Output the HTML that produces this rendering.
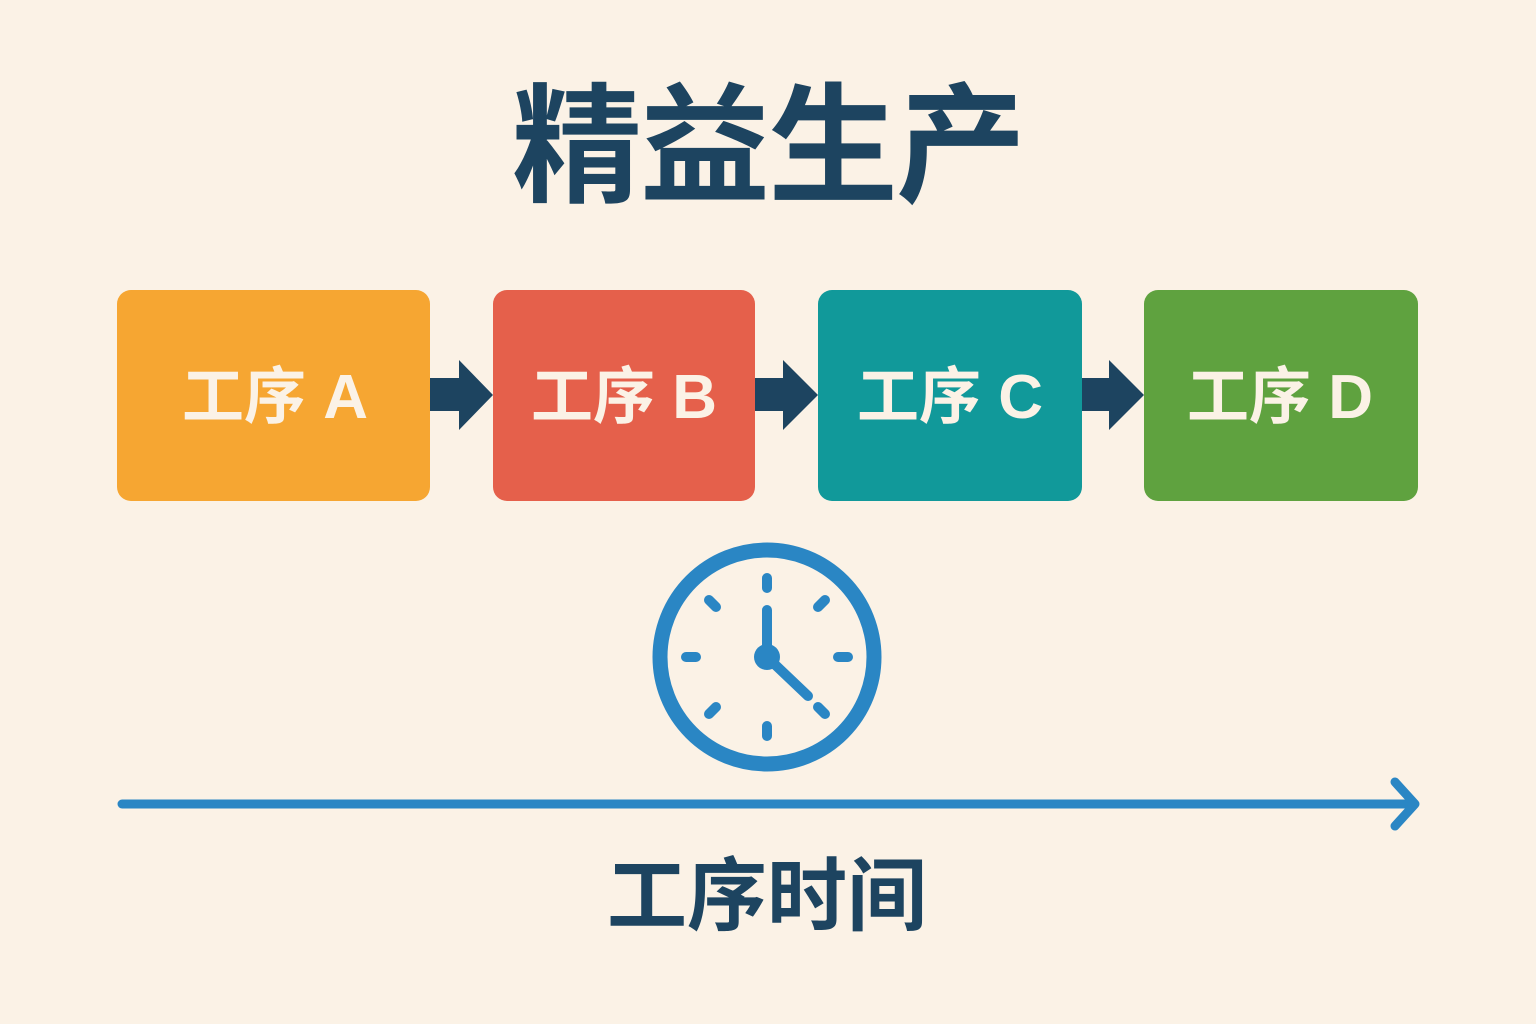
<!DOCTYPE html>
<html><head><meta charset="utf-8"><style>
html,body{margin:0;padding:0;background:#fbf2e6;}
svg{display:block}
text{font-family:"Liberation Sans","Noto Sans CJK SC",sans-serif;font-weight:bold}
</style></head><body>
<svg width="1536" height="1024" viewBox="0 0 1536 1024">
<rect width="1536" height="1024" fill="#fbf2e6"/>
<text x="768" y="192" text-anchor="middle" font-size="130" fill="#1d4460" letter-spacing="-2">精益生产</text>
<rect x="117" y="290" width="313" height="211" rx="14" fill="#f6a632"/>
<rect x="493" y="290" width="262" height="211" rx="14" fill="#e5604b"/>
<rect x="818" y="290" width="264" height="211" rx="14" fill="#11999a"/>
<rect x="1144" y="290" width="274" height="211" rx="14" fill="#5fa23f"/>
<g fill="#1d4460">
<polygon points="430,378 459,378 459,360 493,395 459,430 459,411 430,411"/>
<polygon points="755,378 783,378 783,360 818,395 783,430 783,411 755,411"/>
<polygon points="1082,378 1109,378 1109,360 1144,395 1109,430 1109,411 1082,411"/>
</g>
<g fill="#fbf2e6" font-size="62">
<text x="275" y="418" text-anchor="middle">工序 A</text>
<text x="624" y="418" text-anchor="middle">工序 B</text>
<text x="950" y="418" text-anchor="middle">工序 C</text>
<text x="1280" y="418" text-anchor="middle">工序 D</text>
</g>
<g stroke="#2a86c4" fill="none" stroke-linecap="round">
<circle cx="767" cy="657" r="107" stroke-width="15"/>
<g stroke-width="10">
<line x1="767" y1="578" x2="767" y2="588"/>
<line x1="767" y1="726" x2="767" y2="736"/>
<line x1="686" y1="657" x2="696" y2="657"/>
<line x1="838" y1="657" x2="848" y2="657"/>
<line x1="709" y1="600" x2="716" y2="607"/>
<line x1="825" y1="600" x2="818" y2="607"/>
<line x1="709" y1="714" x2="716" y2="707"/>
<line x1="825" y1="714" x2="818" y2="707"/>
<line x1="767" y1="610" x2="767" y2="657"/>
<line x1="767" y1="657" x2="808" y2="696"/>
</g>
<line x1="122" y1="804" x2="1414" y2="804" stroke-width="9"/>
<polyline points="1395,782 1415,804 1395,826" stroke-width="9" stroke-linejoin="round"/>
</g>
<circle cx="767" cy="657" r="13" fill="#2a86c4"/>
<text x="767" y="924" text-anchor="middle" font-size="80" fill="#1d4460">工序时间</text>
</svg>
</body></html>
